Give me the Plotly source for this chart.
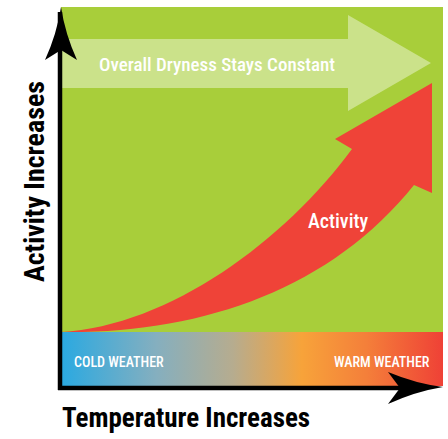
import plotly.graph_objects as go

W, H = 448, 439

# ---- diagram geometry (pixel-like units, y grows downward) ----
panel_x = [61, 443]
panel_y = [7, 332]
band_y = [332, 386]

# light-green "constant dryness" arrow: shaft and head
dry_shaft_x = [61, 348]
dry_shaft_y = [39, 88]
dry_head_x = [348, 431]
dry_head_y = [15, 63, 111]

# red "activity" curved arrow
act_tail = (61, 332)
act_upper_ctrl = [(170, 326), (285, 240)]
act_notch_left = (352, 149)
act_wing_left = (335, 139)
act_tip = (432, 83)
act_wing_right = (432, 193)
act_notch_right = (414, 185)
act_lower_ctrl = [(330, 290), (200, 334)]

# axes arrows
y_axis_x = 60
y_axis_span = [390, 12]
y_head = dict(tip=(61, 7), left=(45, 60), right=(77, 60), notch=(61, 50))
x_axis_y = 388
x_axis_span = [58, 420]
x_head = dict(tip=(443, 387), up=(388, 372), down=(388, 404), notch=(400, 388))

# gradient stops for temperature band
band_colors = ["#2AA9E1", "#85AFBF", "#B6AC8F", "#F7A33A", "#F47F3A", "#EF4136"]
band_pos = [0.0, 0.25, 0.45, 0.63, 0.8, 1.0]

# texts
dry_label = "Overall Dryness Stays Constant"
act_label = "Activity"
cold_label = "COLD WEATHER"
warm_label = "WARM WEATHER"
x_title = "Temperature Increases"
y_title = "Activity Increases"

GREEN = "#A8CE3A"
LIGHT = "#CBE28A"
RED = "#EF4338"
FONT = "Roboto Condensed, Open Sans Condensed, sans-serif"

fig = go.Figure()

# temperature gradient band
fig.add_trace(go.Scatter(
    x=[panel_x[0], panel_x[1], panel_x[1], panel_x[0], panel_x[0]],
    y=[band_y[0], band_y[0], band_y[1], band_y[1], band_y[0]],
    mode="lines", line=dict(width=0), fill="toself",
    fillgradient=dict(type="horizontal",
                      colorscale=[[p, c] for p, c in zip(band_pos, band_colors)]),
    hoverinfo="skip", showlegend=False))

shapes = []
# green panel
shapes.append(dict(type="rect", xref="x", yref="y", x0=panel_x[0], x1=panel_x[1],
                   y0=panel_y[0], y1=panel_y[1], fillcolor=GREEN, line=dict(width=0),
                   layer="below"))

def P(p):
    return f"{p[0]},{p[1]}"

# light arrow
dry_path = (f"M {dry_shaft_x[0]},{dry_shaft_y[0]} L {dry_head_x[0]},{dry_shaft_y[0]} "
            f"L {dry_head_x[0]},{dry_head_y[0]} L {dry_head_x[1]},{dry_head_y[1]} "
            f"L {dry_head_x[0]},{dry_head_y[2]} L {dry_head_x[0]},{dry_shaft_y[1]} "
            f"L {dry_shaft_x[0]},{dry_shaft_y[1]} Z")
shapes.append(dict(type="path", xref="x", yref="y", path=dry_path,
                   fillcolor=LIGHT, line=dict(width=0)))

# red arrow
act_path = (f"M {P(act_tail)} C {P(act_upper_ctrl[0])} {P(act_upper_ctrl[1])} {P(act_notch_left)} "
            f"L {P(act_wing_left)} L {P(act_tip)} L {P(act_wing_right)} L {P(act_notch_right)} "
            f"C {P(act_lower_ctrl[0])} {P(act_lower_ctrl[1])} {P(act_tail)} Z")
shapes.append(dict(type="path", xref="x", yref="y", path=act_path,
                   fillcolor=RED, line=dict(width=0)))

# axes lines
shapes.append(dict(type="line", xref="x", yref="y", x0=y_axis_x, x1=y_axis_x,
                   y0=y_axis_span[0], y1=y_axis_span[1], line=dict(color="black", width=4.5)))
shapes.append(dict(type="line", xref="x", yref="y", x0=x_axis_span[0], x1=x_axis_span[1],
                   y0=x_axis_y, y1=x_axis_y, line=dict(color="black", width=4.5)))

# arrow heads
t, l, r, n = y_head["tip"], y_head["left"], y_head["right"], y_head["notch"]
yh_path = (f"M {P(l)} Q {(t[0]+l[0])/2+4},{(t[1]+l[1])/2} {P(t)} "
           f"Q {(t[0]+r[0])/2-4},{(t[1]+r[1])/2} {P(r)} L {P(n)} Z")
shapes.append(dict(type="path", xref="x", yref="y", path=yh_path,
                   fillcolor="black", line=dict(width=0)))
t, u, d, n = x_head["tip"], x_head["up"], x_head["down"], x_head["notch"]
xh_path = (f"M {P(u)} Q {(t[0]+u[0])/2},{(t[1]+u[1])/2+4} {P(t)} "
           f"Q {(t[0]+d[0])/2},{(t[1]+d[1])/2-4} {P(d)} L {P(n)} Z")
shapes.append(dict(type="path", xref="x", yref="y", path=xh_path,
                   fillcolor="black", line=dict(width=0)))

annotations = [
    dict(x=217, y=64, text=dry_label, font=dict(family=FONT, size=19, color="white", weight=500)),
    dict(x=338, y=221, text=act_label, font=dict(family=FONT, size=20, color="white", weight=500)),
    dict(x=72, y=362, text=cold_label, xanchor="left", font=dict(family=FONT, size=14, color="white", weight=500)),
    dict(x=432, y=362, text=warm_label, xanchor="right", font=dict(family=FONT, size=14, color="white", weight=500)),
    dict(x=60, y=418, text=f"<b>{x_title}</b>", xanchor="left", font=dict(family=FONT, size=27, color="black")),
    dict(x=34, y=182, text=f"<b>{y_title}</b>", textangle=-90, font=dict(family=FONT, size=28, color="black")),
]
for a in annotations:
    a.update(xref="x", yref="y", showarrow=False)

fig.update_layout(
    width=W, height=H, margin=dict(l=0, r=0, t=0, b=0),
    paper_bgcolor="white", plot_bgcolor="white",
    xaxis=dict(range=[0, W], visible=False, fixedrange=True),
    yaxis=dict(range=[H, 0], visible=False, fixedrange=True),
    shapes=shapes, annotations=annotations, showlegend=False,
)
fig.write_html("out.html", config={"displayModeBar": False},
               post_script="document.body.style.margin='0';")
